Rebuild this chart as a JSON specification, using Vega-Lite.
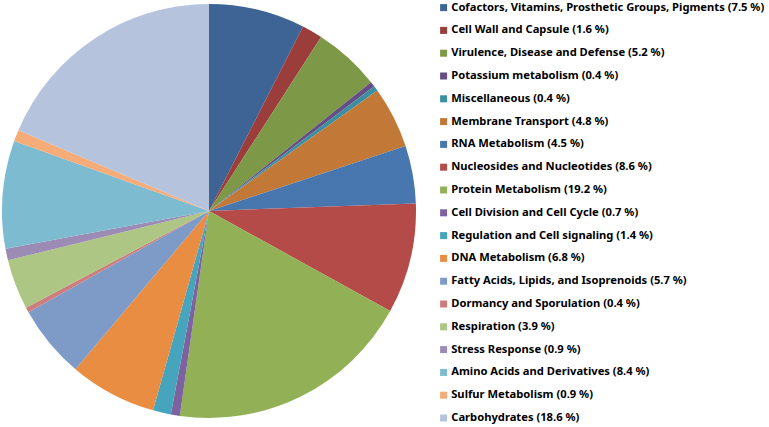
{
  "$schema": "https://vega.github.io/schema/vega-lite/v6.json",
  "width": 418,
  "height": 422,
  "padding": 0,
  "background": "white",
  "config": {"view": {"stroke": null}},
  "data": {
    "values": [
      {"idx": 1, "category": "Cofactors, Vitamins, Prosthetic Groups, Pigments (7.5 %)", "value": 7.5},
      {"idx": 2, "category": "Cell Wall and Capsule (1.6 %)", "value": 1.6},
      {"idx": 3, "category": "Virulence, Disease and Defense (5.2 %)", "value": 5.2},
      {"idx": 4, "category": "Potassium metabolism (0.4 %)", "value": 0.4},
      {"idx": 5, "category": "Miscellaneous (0.4 %)", "value": 0.4},
      {"idx": 6, "category": "Membrane Transport (4.8 %)", "value": 4.8},
      {"idx": 7, "category": "RNA Metabolism (4.5 %)", "value": 4.5},
      {"idx": 8, "category": "Nucleosides and Nucleotides (8.6 %)", "value": 8.6},
      {"idx": 9, "category": "Protein Metabolism (19.2 %)", "value": 19.2},
      {"idx": 10, "category": "Cell Division and Cell Cycle (0.7 %)", "value": 0.7},
      {"idx": 11, "category": "Regulation and Cell signaling (1.4 %)", "value": 1.4},
      {"idx": 12, "category": "DNA Metabolism (6.8 %)", "value": 6.8},
      {"idx": 13, "category": "Fatty Acids, Lipids, and Isoprenoids (5.7 %)", "value": 5.7},
      {"idx": 14, "category": "Dormancy and Sporulation (0.4 %)", "value": 0.4},
      {"idx": 15, "category": "Respiration (3.9 %)", "value": 3.9},
      {"idx": 16, "category": "Stress Response (0.9 %)", "value": 0.9},
      {"idx": 17, "category": "Amino Acids and Derivatives (8.4 %)", "value": 8.4},
      {"idx": 18, "category": "Sulfur Metabolism (0.9 %)", "value": 0.9},
      {"idx": 19, "category": "Carbohydrates (18.6 %)", "value": 18.6}
    ]
  },
  "mark": {"type": "arc", "outerRadius": 207, "stroke": null},
  "encoding": {
    "theta": {"field": "value", "type": "quantitative", "stack": true},
    "order": {"field": "idx", "type": "quantitative"},
    "color": {
      "field": "category",
      "type": "nominal",
      "sort": null,
      "scale": {
        "domain": [
          "Cofactors, Vitamins, Prosthetic Groups, Pigments (7.5 %)",
          "Cell Wall and Capsule (1.6 %)",
          "Virulence, Disease and Defense (5.2 %)",
          "Potassium metabolism (0.4 %)",
          "Miscellaneous (0.4 %)",
          "Membrane Transport (4.8 %)",
          "RNA Metabolism (4.5 %)",
          "Nucleosides and Nucleotides (8.6 %)",
          "Protein Metabolism (19.2 %)",
          "Cell Division and Cell Cycle (0.7 %)",
          "Regulation and Cell signaling (1.4 %)",
          "DNA Metabolism (6.8 %)",
          "Fatty Acids, Lipids, and Isoprenoids (5.7 %)",
          "Dormancy and Sporulation (0.4 %)",
          "Respiration (3.9 %)",
          "Stress Response (0.9 %)",
          "Amino Acids and Derivatives (8.4 %)",
          "Sulfur Metabolism (0.9 %)",
          "Carbohydrates (18.6 %)"
        ],
        "range": [
          "#3D6495", "#9A3D3B", "#7D9846", "#664E85", "#3A8FA3", "#C27837",
          "#4877B0", "#B44B48", "#92B055", "#7C629E", "#46A5BC", "#E88D42",
          "#7E9BC8", "#CB7E7D", "#AEC684", "#9B8BB5", "#7DBBD1", "#F5AC79",
          "#B5C3DC"
        ]
      },
      "legend": {
        "title": null,
        "orient": "none",
        "legendX": 438,
        "legendY": 2,
        "symbolType": "square",
        "symbolSize": 49,
        "symbolStrokeWidth": 0,
        "labelFont": "Noto Sans",
        "labelFontWeight": "bold",
        "labelFontSize": 11.2,
        "labelColor": "#000000",
        "labelOffset": 2,
        "labelLimit": 400,
        "rowPadding": 10.8
      }
    }
  }
}
